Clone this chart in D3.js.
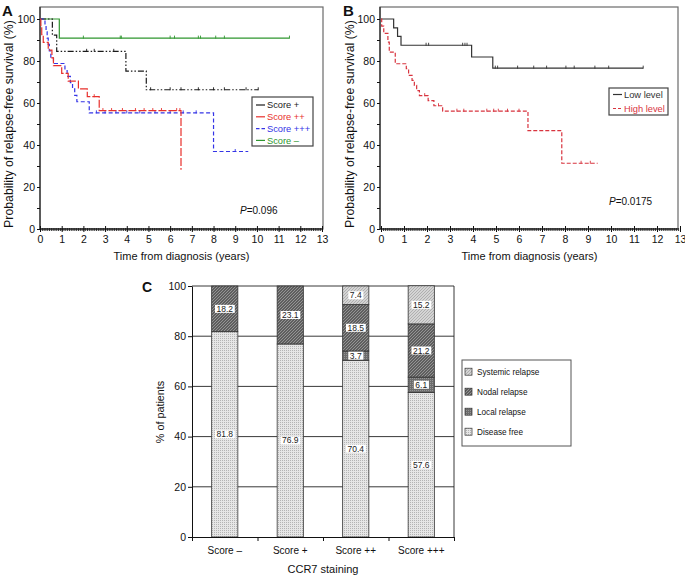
<!DOCTYPE html>
<html>
<head>
<meta charset="utf-8">
<script src="https://cdn.jsdelivr.net/npm/d3@7"></script>
<style>
  body { margin: 0; background: #fff; }
  svg { display: block; }
</style>
</head>
<body>
<svg></svg>
<script>
// ---- panel A: Kaplan-Meier by CCR7 score (event times in years, survival % after each event)
const minusTimes = [0.89];
const minusSurv = [90.9];
const minusEnd = 11.5;
const minusCensor = [2.0, 3.7, 3.75, 6.0, 6.2, 7.3, 7.4, 8.1, 8.5, 11.5];

const plusTimes = [0.57, 0.77, 3.96, 4.9];
const plusSurv = [92.3, 84.6, 75.2, 66.3];
const plusEnd = 10.06;
const plusCensor = [2.15, 2.5, 3.4, 5.1, 6.0, 6.5, 7.3, 8.0, 8.5, 9.5, 10.06];

const plus2Times = [0.04, 0.08, 0.15, 0.38, 0.55, 0.62, 1.0, 1.3, 1.77, 2.18, 2.73, 6.5];
const plus2Surv = [96.3, 92.6, 88.9, 85.2, 81.5, 77.8, 74.1, 70.4, 66.7, 63.0, 56.4, 28.2];
const plus2End = 6.5;
const plus2Censor = [2.5, 2.9, 3.3, 3.8, 4.4, 4.8, 5.2, 5.6, 6.3, 6.45];

const plus3Times = [0.23, 0.28, 0.33, 0.38, 0.43, 0.5, 0.62, 1.15, 1.25, 1.4, 1.5, 1.6, 1.7, 2.27, 8.0];
const plus3Surv = [97.0, 93.9, 90.9, 87.9, 84.8, 81.8, 78.8, 75.8, 72.7, 69.7, 66.7, 63.6, 60.6, 55.3, 36.9];
const plus3End = 9.6;
const plus3Censor = [2.6, 3.0, 3.5, 4.0, 4.6, 5.3, 6.0, 6.6, 7.2, 9.0];

// ---- panel B: low vs high level
const lowTimes = [0.55, 0.72, 0.87, 3.94, 4.86];
const lowSurv = [95.8, 91.7, 87.5, 81.9, 76.6];
const lowEnd = 11.4;
const lowCensor = [1.96, 2.07, 3.55, 3.65, 3.74, 4.97, 5.07, 5.94, 6.64, 7.2, 8.04, 8.4, 9.3, 9.9, 11.4];

const highTimes = [0.03, 0.12, 0.3, 0.36, 0.62, 1.1, 1.2, 1.35, 1.45, 1.55, 1.67, 2.05, 2.3, 2.68, 6.39, 7.86];
const highSurv = [96.6, 93.2, 89.0, 84.2, 78.7, 76.3, 73.2, 70.8, 68.4, 65.9, 63.5, 61.1, 58.7, 56.1, 46.8, 31.3];
const highEnd = 9.42;
const highCensor = [1.9, 2.5, 3.3, 3.6, 4.6, 4.9, 5.1, 5.5, 6.0, 8.7, 9.1];

const yearTicks = d3.range(0, 14);
const survTicks = d3.range(0, 101, 10);

// ---- panel C: stacked % of patients
const categories = ['Score \u2013', 'Score +', 'Score ++', 'Score +++'];
const diseaseFree = [81.8, 76.9, 70.4, 57.6];
const localRelapse = [0, 0, 3.7, 6.1];
const nodalRelapse = [18.2, 23.1, 18.5, 21.2];
const systemicRelapse = [0, 0, 7.4, 15.2];
const pctTicks = [0, 20, 40, 60, 80, 100];

const font = "'Liberation Sans', Arial, Helvetica, sans-serif";

const svg = d3.select('svg')
	.attr('width', 685)
	.attr('height', 575)
	.attr('font-family', font);

const defs = svg.append('defs');

function dotPattern(id, bg, fg) {
	const p = defs.append('pattern').attr('id', id)
		.attr('width', 2).attr('height', 2).attr('patternUnits', 'userSpaceOnUse');
	p.append('rect').attr('width', 2).attr('height', 2).attr('fill', bg);
	p.append('rect').attr('width', 1).attr('height', 1).attr('fill', fg);
}
function hatchPattern(id, bg, fg) {
	const p = defs.append('pattern').attr('id', id)
		.attr('width', 3).attr('height', 3).attr('patternUnits', 'userSpaceOnUse');
	p.append('rect').attr('width', 3).attr('height', 3).attr('fill', bg);
	p.append('path').attr('d', 'M0,3L3,0M-1,1L1,-1M2,4L4,2')
		.attr('stroke', fg).attr('stroke-width', 0.8);
}
dotPattern('pDF', '#e6e6e6', '#b4b4b4');
dotPattern('pLocal', '#6c6c6c', '#959595');
hatchPattern('pNodal', '#5e5e5e', '#a2a2a2');
hatchPattern('pSys', '#d4d4d4', '#a6a6a6');

function stepPoints(times, surv, end) {
	const pts = [[0, 100]];
	times.forEach((t, i) => pts.push([t, surv[i]]));
	if (end > times[times.length - 1]) pts.push([end, surv[surv.length - 1]]);
	return pts;
}
function survAt(times, surv, t) {
	let s = 100;
	times.forEach((tt, i) => { if (tt <= t) s = surv[i]; });
	return s;
}

function kmPanel(o) {
	const x = d3.scaleLinear().domain([0, 13]).range([o.x0, o.x1]);
	const y = d3.scaleLinear().domain([0, 100]).range([229, 19]);
	const g = svg.append('g');

	g.append('rect')
		.attr('x', o.frameL).attr('y', 7)
		.attr('width', o.frameR - o.frameL).attr('height', 222)
		.attr('fill', 'none').attr('stroke', '#6a6a6a').attr('stroke-width', 1.2);

	// minor x ticks (months)
	g.append('g')
		.attr('transform', 'translate(0,229)')
		.call(d3.axisBottom(x).tickValues(d3.range(0, 157).map(i => i / 12)).tickSize(2).tickFormat(''))
		.call(a => a.select('.domain').remove())
		.selectAll('line').attr('stroke', '#333').attr('y1', -1);

	const xa = g.append('g')
		.attr('transform', 'translate(0,229)')
		.call(d3.axisBottom(x).tickValues(yearTicks).tickSize(3).tickPadding(4).tickSizeOuter(0));
	xa.select('.domain').attr('d', `M${o.frameL},0H${o.frameR}`).attr('stroke', '#111');
	xa.selectAll('.tick line').attr('y1', -3).attr('stroke', '#111');
	xa.selectAll('text').attr('font-family', font).attr('font-size', 10.5).attr('fill', '#111');

	const ya = g.append('g')
		.attr('transform', `translate(${o.frameL},0)`)
		.call(d3.axisLeft(y).tickValues(survTicks).tickSize(3).tickPadding(2)
			.tickFormat(d => d % 20 === 0 ? d : ''));
	ya.select('.domain').attr('d', 'M0,7V229').attr('stroke', '#111');
	ya.selectAll('.tick line').attr('stroke', '#111');
	ya.selectAll('text').attr('font-family', font).attr('font-size', 10.5).attr('fill', '#111');

	const line = d3.line().x(d => x(d[0])).y(d => y(d[1])).curve(d3.curveStepAfter);

	o.series.forEach(s => {
		g.append('path')
			.attr('d', line(stepPoints(s.times, s.surv, s.end)))
			.attr('fill', 'none')
			.attr('stroke', s.color)
			.attr('stroke-width', 1.2)
			.attr('stroke-dasharray', s.dash);
		g.selectAll(null).data(s.censor).join('line')
			.attr('x1', d => x(d)).attr('x2', d => x(d))
			.attr('y1', d => y(survAt(s.times, s.surv, d)) - 2.5)
			.attr('y2', d => y(survAt(s.times, s.surv, d)) + 0.5)
			.attr('stroke', s.color).attr('stroke-width', 0.9);
	});

	// legend
	const lg = g.append('g');
	lg.append('rect')
		.attr('x', o.legend[0]).attr('y', o.legend[1])
		.attr('width', o.legend[2]).attr('height', o.legend[3])
		.attr('fill', '#fff').attr('stroke', '#444').attr('stroke-width', 1.2);
	o.legendItems.forEach((s, i) => {
		const ly = o.legend[1] + o.legendFirst + i * o.legendStep;
		lg.append('line')
			.attr('x1', o.legend[0] + 4).attr('x2', o.legend[0] + 13)
			.attr('y1', ly).attr('y2', ly)
			.attr('stroke', s.color).attr('stroke-width', 1.2)
			.attr('stroke-dasharray', s.legendDash);
		lg.append('text')
			.attr('x', o.legend[0] + 15).attr('y', ly + 3.3)
			.attr('font-size', 9.3).attr('fill', s.color)
			.text(s.name);
	});

	const pt = g.append('text').attr('x', o.pPos[0]).attr('y', o.pPos[1])
		.attr('font-size', 10).attr('fill', '#111');
	pt.append('tspan').attr('font-style', 'italic').text('P');
	pt.append('tspan').text(o.pValue);

	g.append('text')
		.attr('x', (o.x0 + o.frameR) / 2).attr('y', 260)
		.attr('text-anchor', 'middle').attr('font-size', 11).attr('fill', '#111')
		.text('Time from diagnosis (years)');

	g.append('text')
		.attr('transform', `translate(${o.ylabX},124) rotate(-90)`)
		.attr('text-anchor', 'middle').attr('font-size', 12.3).attr('fill', '#111')
		.text('Probability of relapse-free survival (%)');

	g.append('text')
		.attr('x', o.letter[0]).attr('y', o.letter[1])
		.attr('font-size', 15).attr('font-weight', 'bold').attr('fill', '#111')
		.text(o.letterText);
}

const sPlus = { name: 'Score +', times: plusTimes, surv: plusSurv, end: plusEnd, censor: plusCensor,
	color: '#1a1a1a', dash: '6,2,1.5,2,1.5,2', legendDash: null };
const sPlus2 = { name: 'Score ++', times: plus2Times, surv: plus2Surv, end: plus2End, censor: plus2Censor,
	color: '#e8302c', dash: '8,2', legendDash: null };
const sPlus3 = { name: 'Score +++', times: plus3Times, surv: plus3Surv, end: plus3End, censor: plus3Censor,
	color: '#3434e6', dash: '4,2.5', legendDash: '3.5,2' };
const sMinus = { name: 'Score \u2013', times: minusTimes, surv: minusSurv, end: minusEnd, censor: minusCensor,
	color: '#2f962f', dash: null, legendDash: null };

kmPanel({
	x0: 40, x1: 322, frameL: 40, frameR: 323,
	series: [sMinus, sPlus, sPlus3, sPlus2],
	legendItems: [sPlus, sPlus2, sPlus3, sMinus],
	legend: [252, 97, 61, 49], legendFirst: 8, legendStep: 11.8,
	pValue: '=0.096', pPos: [240, 214],
	ylabX: 12.5, letter: [2, 16], letterText: 'A'
});

const sLow = { name: 'Low level', times: lowTimes, surv: lowSurv, end: lowEnd, censor: lowCensor,
	color: '#333', dash: null, legendDash: null };
const sHigh = { name: 'High level', times: highTimes, surv: highSurv, end: highEnd, censor: highCensor,
	color: '#d8343f', dash: '4,2', legendDash: '3,2' };

kmPanel({
	x0: 381, x1: 680, frameL: 380, frameR: 678,
	series: [sLow, sHigh],
	legendItems: [sLow, sHigh],
	legend: [609, 88, 59, 27], legendFirst: 6.5, legendStep: 14,
	pValue: '=0.0175', pPos: [609, 205],
	ylabX: 354, letter: [343, 16], letterText: 'B'
});

// ---- panel C
const cx = d3.scaleBand().domain(categories).range([192, 454]).paddingInner(0.6).paddingOuter(0.3);
const cy = d3.scaleLinear().domain([0, 100]).range([537, 286]);
const gc = svg.append('g');

const rows = categories.map((c, i) => ({
	cat: c, df: diseaseFree[i], local: localRelapse[i], nodal: nodalRelapse[i], sys: systemicRelapse[i]
}));
const keys = ['df', 'local', 'nodal', 'sys'];
const fills = { df: 'url(#pDF)', local: 'url(#pLocal)', nodal: 'url(#pNodal)', sys: 'url(#pSys)' };
const stacked = d3.stack().keys(keys)(rows);

gc.selectAll('.grid').data(pctTicks.filter(d => d > 0)).join('line')
	.attr('x1', 192).attr('x2', 454)
	.attr('y1', d => cy(d)).attr('y2', d => cy(d))
	.attr('stroke', '#222').attr('stroke-width', 0.9);
gc.append('line').attr('x1', 454).attr('x2', 454).attr('y1', cy(100)).attr('y2', cy(0))
	.attr('stroke', '#222').attr('stroke-width', 0.9);

stacked.forEach(layer => {
	gc.append('g').selectAll('rect')
		.data(layer.filter(d => d[1] - d[0] > 0))
		.join('rect')
		.attr('x', d => cx(d.data.cat))
		.attr('width', cx.bandwidth())
		.attr('y', d => cy(d[1]))
		.attr('height', d => cy(d[0]) - cy(d[1]))
		.attr('fill', fills[layer.key])
		.attr('stroke', '#333').attr('stroke-width', 0.8);
});

stacked.forEach(layer => {
	layer.filter(d => d[1] - d[0] > 0).forEach(d => {
		const px = cx(d.data.cat) + cx.bandwidth() / 2;
		const py = cy((d[0] + d[1]) / 2);
		const lab = gc.append('g');
		const t = lab.append('text')
			.attr('x', px).attr('y', py + 3)
			.attr('text-anchor', 'middle').attr('font-size', 8.5).attr('fill', '#222')
			.text(d3.format('.1f')(d[1] - d[0]));
		const bb = t.node().getBBox();
		lab.insert('rect', 'text')
			.attr('x', bb.x - 1.5).attr('y', py - 4)
			.attr('width', bb.width + 3).attr('height', 8)
			.attr('fill', '#fff');
	});
});

const cya = gc.append('g')
	.attr('transform', 'translate(192,0)')
	.call(d3.axisLeft(cy).tickValues(pctTicks).tickSize(4).tickPadding(2).tickSizeOuter(0));
cya.selectAll('text').attr('font-family', font).attr('font-size', 10.5).attr('fill', '#111');
cya.selectAll('line, path').attr('stroke', '#111');

const bounds = d3.scaleLinear().domain([0, 4]).range([192, 454]);
const cxa = gc.append('g')
	.attr('transform', 'translate(0,537)')
	.call(d3.axisBottom(bounds).ticks(4).tickSize(4).tickFormat('').tickSizeOuter(0));
cxa.selectAll('line, path').attr('stroke', '#111');

const cxl = gc.append('g')
	.attr('transform', 'translate(0,537)')
	.call(d3.axisBottom(cx).tickSize(0).tickPadding(10));
cxl.select('.domain').remove();
cxl.selectAll('text').attr('font-family', font).attr('font-size', 10).attr('fill', '#111');

gc.append('text').attr('x', 323).attr('y', 573)
	.attr('text-anchor', 'middle').attr('font-size', 11).attr('fill', '#111')
	.text('CCR7 staining');
gc.append('text').attr('transform', 'translate(164,412) rotate(-90)')
	.attr('text-anchor', 'middle').attr('font-size', 10.8).attr('fill', '#111')
	.text('% of patients');
gc.append('text').attr('x', 142).attr('y', 292)
	.attr('font-size', 14).attr('font-weight', 'bold').attr('fill', '#111')
	.text('C');

// legend C
const legendItemsC = [
	{ key: 'sys', name: 'Systemic relapse' },
	{ key: 'nodal', name: 'Nodal relapse' },
	{ key: 'local', name: 'Local relapse' },
	{ key: 'df', name: 'Disease free' }
];
const lgc = gc.append('g');
lgc.append('rect').attr('x', 462).attr('y', 360).attr('width', 109).attr('height', 86)
	.attr('fill', '#fff').attr('stroke', '#555').attr('stroke-width', 1);
legendItemsC.forEach((d, i) => {
	const ly = 371.7 + i * 20;
	lgc.append('rect').attr('x', 465).attr('y', ly - 3.5).attr('width', 7).attr('height', 7)
		.attr('fill', fills[d.key]).attr('stroke', '#333').attr('stroke-width', 0.7);
	lgc.append('text').attr('x', 477).attr('y', ly + 3)
		.attr('font-size', 8.2).attr('fill', '#111').text(d.name);
});
</script>
</body>
</html>
